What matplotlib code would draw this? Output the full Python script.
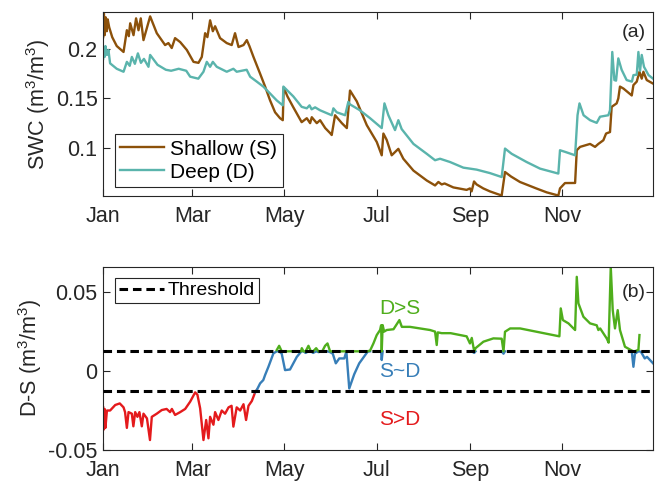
import numpy as np
import matplotlib
matplotlib.use("Agg")
import matplotlib.pyplot as plt

# soil water content (day of year, m3/m3)
shallow_day = [0, 0.5, 1, 1.7, 2.4, 3, 4, 6, 9, 13.5, 15.7, 17, 17.9, 20.1, 21.8, 23.4, 24.9,
               26.7, 31.1, 35.5, 41, 43.2, 45.4, 47.6, 51, 55.4, 59.8, 63.1, 65.3, 67.5, 69,
               70.8, 72.6, 74.1, 77.4, 81.8, 85.1, 87.3, 89.6, 92.9, 95.1, 96.8, 99.5, 103.9,
               107.2, 110.5, 113.8, 117.1, 118.9, 119.5, 122, 125.9, 131.4, 134.8, 137, 138.1,
               141.4, 143.6, 147, 150.2, 151.3, 153.5, 158, 161.3, 163.4, 167.9, 174.5, 181.1,
               184.4, 185.5, 187.7, 191, 195.4, 198.7, 205.4, 214.2, 219.7, 221.9, 224.1, 226,
               231.8, 240.6, 242.8, 243.9, 245.5, 247.2, 251.6, 256, 263.8, 266, 270, 275.9,
               287, 293.6, 301.3, 302.4, 305.7, 312.4, 313.5, 315.7, 322.3, 325.6, 327.8,
               331.1, 332.9, 335.5, 336.6, 339.9, 341, 342.1, 344.4, 349.9, 351, 353.2, 355,
               356.5, 357.6, 359.8, 364]
shallow_swc = [0.212, 0.236, 0.214, 0.232, 0.218, 0.23, 0.222, 0.212, 0.203, 0.197, 0.219,
               0.213, 0.226, 0.214, 0.231, 0.219, 0.231, 0.209, 0.233, 0.216, 0.204, 0.206,
               0.201, 0.211, 0.207, 0.199, 0.187, 0.186, 0.192, 0.216, 0.212, 0.229, 0.218,
               0.223, 0.211, 0.206, 0.204, 0.216, 0.202, 0.204, 0.209, 0.203, 0.192, 0.175,
               0.162, 0.148, 0.136, 0.130, 0.128, 0.161, 0.152, 0.141, 0.126, 0.130, 0.125,
               0.131, 0.125, 0.128, 0.120, 0.115, 0.113, 0.133, 0.125, 0.120, 0.158, 0.147,
               0.123, 0.106, 0.0925, 0.1145, 0.108, 0.0925, 0.099, 0.089, 0.077, 0.067, 0.062,
               0.0655, 0.063, 0.064, 0.060, 0.0575, 0.059, 0.056, 0.066, 0.063, 0.059, 0.056,
               0.0518, 0.0756, 0.071, 0.0655, 0.0588, 0.055, 0.0518, 0.059, 0.0644, 0.0645,
               0.0976, 0.101, 0.104, 0.101, 0.104, 0.1077, 0.1145, 0.116, 0.1415, 0.145,
               0.150, 0.162, 0.160, 0.153, 0.1635, 0.167, 0.177, 0.170, 0.177, 0.1686, 0.165]

deep_day = [0, 0.5, 1, 1.5, 2.5, 3.5, 4.6, 9, 13.5, 15.7, 17.6, 19, 21, 23, 25, 27, 30, 31.1,
            36, 41.5, 45, 50, 55, 57.6, 63, 66.4, 68.6, 70.8, 72.6, 75.2, 81.8, 86.2, 88.4,
            95, 97.3, 101.7, 106, 110.5, 114.9, 118.9, 119.3, 125.9, 131.4, 134.8, 136.6,
            138, 140.3, 143.6, 151.3, 152.4, 154.6, 160.2, 162.3, 163.4, 170, 176.7, 184.4,
            186.2, 188.8, 193.2, 195.4, 197.6, 205.4, 214.2, 219.7, 223, 229.6, 238.4, 247.2,
            256, 263.8, 266, 270.4, 280.3, 289.2, 301.3, 302.4, 305.7, 312.4, 314, 315.3,
            318, 322.3, 326.7, 328.9, 334.4, 335.5, 337, 338.4, 339.5, 341, 343.2, 346.5,
            350, 351, 353.2, 354.3, 355.4, 356.5, 358, 361, 364]
deep_swc = [0.19, 0.2, 0.192, 0.203, 0.194, 0.199, 0.1855, 0.18, 0.177, 0.187, 0.183, 0.192,
            0.185, 0.1956, 0.186, 0.19, 0.182, 0.194, 0.184, 0.179, 0.178, 0.180, 0.178,
            0.172, 0.170, 0.177, 0.187, 0.182, 0.187, 0.182, 0.177, 0.180, 0.177, 0.179,
            0.172, 0.167, 0.162, 0.155, 0.148, 0.143, 0.162, 0.152, 0.1415, 0.140, 0.143,
            0.139, 0.141, 0.138, 0.133, 0.140, 0.136, 0.133, 0.1466, 0.144, 0.138, 0.130,
            0.120, 0.145, 0.133, 0.118, 0.128, 0.119, 0.104, 0.094, 0.0875, 0.089, 0.0857,
            0.080, 0.078, 0.0745, 0.0705, 0.0993, 0.094, 0.0857, 0.079, 0.074, 0.0976,
            0.096, 0.0925, 0.133, 0.145, 0.133, 0.128, 0.1253, 0.1315, 0.133, 0.138, 0.197,
            0.1686, 0.168, 0.1905, 0.179, 0.1686, 0.167, 0.1736, 0.174, 0.197, 0.178, 0.194,
            0.182, 0.1736, 0.170]

# deep minus shallow
diff_day = [0, 0.5, 1, 1.5, 2.5, 4.6, 8, 11, 13.5, 14.5, 15.7, 16.8, 19, 20, 21.2, 22.7, 24,
            25.6, 26.7, 29, 31, 32.2, 35.5, 38.8, 42, 44.3, 45.5, 47.6, 51, 54.3, 57.6, 60.9,
            62.4, 64.2, 66.4, 68.2, 69.7, 70.8, 73, 74.1, 76.3, 78.5, 80.7, 83, 85, 86.2,
            88.4, 90.7, 92.9, 94.6, 96.2, 98.4, 100.6, 101.7, 103.9, 106, 107.2, 109.4,
            112.7, 114.9, 116.5, 118.2, 120.4, 123.7, 128.2, 131, 131.5, 132.6, 134, 135.9,
            137.5, 139, 141, 142.5, 145, 146.9, 148.5, 150.2, 152, 154, 156.3, 159.6, 161,
            162.9, 166.2, 169.5, 175, 176.7, 178.9, 181.1, 183.3, 184, 184.4, 185, 186,
            187.7, 192.2, 196.1, 197.7, 203.1, 209.8, 216.4, 219.7, 220.8, 221.5, 224.1, 230,
            236.2, 240.6, 242.8, 244, 245.6, 246.5, 248.4, 251.7, 258.3, 263.8, 265, 266,
            269.4, 276, 287, 298.1, 302, 302.9, 304.3, 308, 312.4, 313.5, 314.6, 317.9,
            322.3, 326.7, 327.8, 329, 333.3, 334.6, 336, 337.3, 338.8, 340.6, 342.1, 345.4,
            349.9, 351, 352, 354.3, 355, 356.1, 358.5, 360, 362, 364]
diff_swc = [-0.023, -0.037, -0.024, -0.036, -0.025, -0.025, -0.0215, -0.0205, -0.023, -0.026,
            -0.036, -0.026, -0.027, -0.035, -0.026, -0.029, -0.026, -0.035, -0.027, -0.03,
            -0.0437, -0.029, -0.027, -0.0247, -0.024, -0.026, -0.024, -0.0278, -0.026,
            -0.024, -0.0194, -0.0135, -0.015, -0.0236, -0.0437, -0.031, -0.0426, -0.029,
            -0.034, -0.026, -0.031, -0.025, -0.027, -0.023, -0.022, -0.0352, -0.023, -0.025,
            -0.021, -0.031, -0.022, -0.019, -0.0135, -0.012, -0.0078, -0.0057, -0.0025,
            0.0027, 0.0112, 0.0133, 0.016, 0.011, 0.0006, 0.001, 0.009, 0.0122, 0.0145,
            0.0125, 0.0115, 0.016, 0.0125, 0.0115, 0.0145, 0.012, 0.0125, 0.016, 0.0175,
            0.012, 0.011, 0.0049, 0.008, 0.008, 0.0124, -0.011, -0.002, 0.0049, 0.0122,
            0.013, 0.0175, 0.0228, 0.026, 0.029, 0.007, 0.0291, 0.025, 0.026, 0.0265, 0.0323,
            0.028, 0.028, 0.027, 0.026, 0.025, 0.0165, 0.0245, 0.024, 0.024, 0.0228, 0.022,
            0.0175, 0.021, 0.0115, 0.0145, 0.016, 0.0186, 0.0207, 0.0205, 0.011, 0.0249,
            0.027, 0.027, 0.0249, 0.0228, 0.022, 0.0397, 0.0323, 0.0302, 0.026, 0.0597,
            0.0429, 0.0344, 0.0302, 0.029, 0.026, 0.027, 0.0207, 0.018, 0.066, 0.0386, 0.027,
            0.0386, 0.026, 0.0154, 0.013, 0.0027, 0.011, 0.0135, 0.0228, 0.012, 0.008, 0.009,
            0.007, 0.0049]

threshold = 0.0125
month_days = [0, 59, 120, 181, 243, 304]
month_labels = ['Jan', 'Mar', 'May', 'Jul', 'Sep', 'Nov']

plt.rcParams['font.family'] = 'Liberation Sans'
plt.rcParams['mathtext.fontset'] = 'custom'
plt.rcParams['mathtext.rm'] = 'Liberation Sans'
plt.rcParams['mathtext.it'] = 'Liberation Sans'
axcol = '#262626'
fs = 15.5

fig = plt.figure(figsize=(6.57, 4.87), dpi=100)
ax1 = fig.add_axes([0.157, 0.5975, 0.837, 0.378])
ax2 = fig.add_axes([0.157, 0.076, 0.837, 0.376])


def style(ax):
    ax.set_xlim(0, 364)
    ax.set_xticks(month_days)
    ax.set_xticklabels(month_labels)
    ax.tick_params(direction='in', length=5, width=0.8, colors=axcol, labelsize=fs,
                   top=True, right=True)
    ax.tick_params(axis='x', pad=7)
    ax.tick_params(axis='y', pad=4)
    for s in ax.spines.values():
        s.set_color(axcol)
        s.set_linewidth(0.8)


# (a) soil water content
ax1.plot(shallow_day, shallow_swc, color='#8c510a', lw=1.7, label='Shallow (S)')
ax1.plot(deep_day, deep_swc, color='#5ab4ac', lw=1.7, label='Deep (D)')
style(ax1)
ax1.set_ylim(0.0513, 0.2375)
ax1.set_yticks([0.1, 0.15, 0.2])
ax1.set_yticklabels(['0.1', '0.15', '0.2'])
ax1.set_ylabel(r'SWC (m$^3$/m$^3$)', fontsize=fs, color=axcol, labelpad=3)
ax1.text(0.965, 0.89, '(a)', transform=ax1.transAxes, ha='center', va='center',
         fontsize=14, color=axcol)
leg = ax1.legend(loc='lower left', bbox_to_anchor=(0.022, 0.049), borderaxespad=0,
                 fontsize=15, handlelength=2.1, fancybox=False, framealpha=1,
                 edgecolor=axcol, borderpad=0.25, labelspacing=0.2, handletextpad=0.3)
leg.get_frame().set_linewidth(0.8)

# (b) difference, coloured by class
d = np.array(diff_swc)
t = np.array(diff_day)
cls = np.where(d > threshold, 2, np.where(d < -threshold, 0, 1))
n = len(d)

red = np.full(n, np.nan)
blue = np.full(n, np.nan)
for i in range(n):
    if cls[i] == 0 or (i > 0 and cls[i - 1] == 0):
        red[i] = d[i]
    if cls[i] == 1:
        blue[i] = d[i]
    elif (i > 0 and cls[i - 1] == 1) or (i < n - 1 and cls[i + 1] == 1):
        # blue runs end where they meet the neighbouring class
        blue[i] = min(d[i], threshold) if cls[i] == 2 else d[i]
# green runs through the whole D>S period, resting on the threshold in between
gi = np.where(cls == 2)[0]
green = np.full(n, np.nan)
green[gi[0]:gi[-1] + 1] = np.maximum(d[gi[0]:gi[-1] + 1], threshold)

ax2.plot(t, red, color='#e41a1c', lw=1.7)
ax2.plot(t, blue, color='#377eb8', lw=1.7)
ax2.plot(t, green, color='#4fae1c', lw=1.7)
thr_line, = ax2.plot([0, 364], [threshold, threshold], color='k', lw=2.2,
                     dashes=(2.8, 1.6), label='Threshold', zorder=5)
ax2.plot([0, 364], [-threshold, -threshold], color='k', lw=2.2, dashes=(2.8, 1.6), zorder=5)
style(ax2)
ax2.set_ylim(-0.05, 0.066)
ax2.set_yticks([-0.05, 0, 0.05])
ax2.set_yticklabels(['-0.05', '0', '0.05'])
ax2.set_ylabel(r'D-S (m$^3$/m$^3$)', fontsize=fs, color=axcol, labelpad=3)
ax2.text(0.965, 0.858, '(b)', transform=ax2.transAxes, ha='center', va='center',
         fontsize=14, color=axcol)
ax2.text(0.54, 0.77, 'D>S', transform=ax2.transAxes, ha='center', va='center',
         fontsize=15, color='#4fae1c')
ax2.text(0.54, 0.426, 'S~D', transform=ax2.transAxes, ha='center', va='center',
         fontsize=15, color='#377eb8')
ax2.text(0.54, 0.164, 'S>D', transform=ax2.transAxes, ha='center', va='center',
         fontsize=15, color='#e41a1c')
leg2 = ax2.legend(handles=[thr_line], loc='upper left', bbox_to_anchor=(0.022, 0.94),
                  borderaxespad=0, fontsize=14, handlelength=2.3, fancybox=False,
                  framealpha=1, edgecolor=axcol, borderpad=0.2, handletextpad=0.2)
leg2.get_frame().set_linewidth(0.8)

fig.savefig('out.png', dpi=100)
